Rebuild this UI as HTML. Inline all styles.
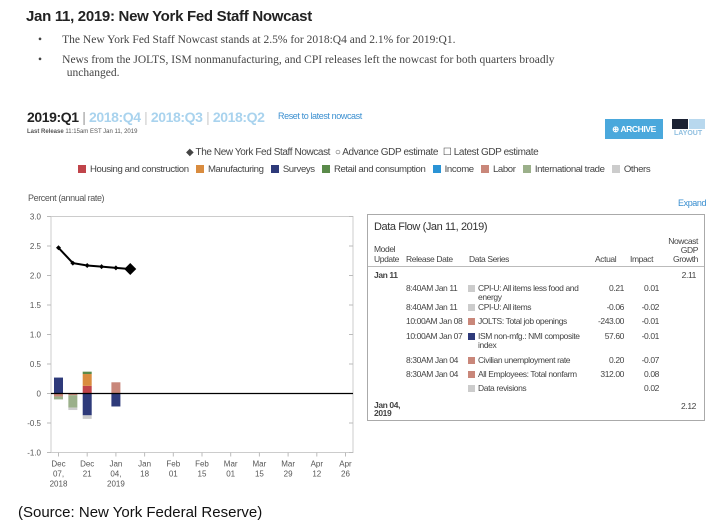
<!DOCTYPE html>
<html><head><meta charset="utf-8">
<style>
body{margin:0;width:721px;height:529px;background:#fff;position:relative;overflow:hidden;font-family:"Liberation Sans",sans-serif;color:#333}
.a{position:absolute;white-space:nowrap}
.c{letter-spacing:-0.4px}
.sw{display:inline-block;width:8px;height:8px;margin:0 4px 0 5px;vertical-align:-1px}
</style></head><body>
<div class="a" style="left:26px;top:8px;font-size:15px;font-weight:bold;color:#222;letter-spacing:-0.3px">Jan 11, 2019: New York Fed Staff Nowcast</div>
<div class="a" style="left:38px;top:34px;font-family:'Liberation Serif',serif;font-size:11.5px;color:#444">•&nbsp;&nbsp;&nbsp;&nbsp;&nbsp;&nbsp;&nbsp;The New York Fed Staff Nowcast stands at 2.5% for 2018:Q4 and 2.1% for 2019:Q1.</div>
<div class="a" style="left:38px;top:54px;font-family:'Liberation Serif',serif;font-size:11.5px;color:#444;line-height:13px">•&nbsp;&nbsp;&nbsp;&nbsp;&nbsp;&nbsp;&nbsp;News from the JOLTS, ISM nonmanufacturing, and CPI releases left the nowcast for both quarters broadly<br>&nbsp;&nbsp;&nbsp;&nbsp;&nbsp;&nbsp;&nbsp;&nbsp;&nbsp;&nbsp;unchanged.</div>

<div class="a c" style="left:27px;top:109px;font-size:14px;font-weight:bold;color:#222">
<span>2019:Q1</span> <span style="color:#999;font-weight:normal">|</span>
<span style="color:#a9d3ee">2018:Q4</span> <span style="color:#ccc;font-weight:normal">|</span>
<span style="color:#a9d3ee">2018:Q3</span> <span style="color:#ccc;font-weight:normal">|</span>
<span style="color:#a9d3ee">2018:Q2</span></div>
<div class="a c" style="left:278px;top:111px;font-size:9px;color:#3a8fd0">Reset to latest nowcast</div>
<div class="a" style="left:27px;top:129px;font-size:6px;color:#555"><b>Last Release</b> 11:15am EST Jan 11, 2019</div>
<div class="a c" style="left:605px;top:119px;width:58px;height:20px;background:#4aa8dc;color:#fff;font-size:8.5px;font-weight:bold;line-height:20px;text-align:center">⊕ ARCHIVE</div>
<div class="a" style="left:672px;top:119px;width:34px;height:22px">
<div style="position:absolute;left:0;top:0;width:16px;height:10px;background:#1b2233"></div>
<div style="position:absolute;left:17px;top:0;width:16px;height:10px;background:#b8d8ee"></div>
<div style="position:absolute;left:2px;top:11px;font-size:7px;color:#8fbfe0;font-weight:bold">LAYOUT</div></div>

<div class="a c" style="left:186px;top:147px;font-size:10px;color:#444">
<span>◆ The New York Fed Staff Nowcast</span>&nbsp;
<span>○ Advance GDP estimate</span>&nbsp;
<span>☐ Latest GDP estimate</span></div>
<div class="a c" style="left:73px;top:164px;font-size:9.6px;color:#444">
<span><i class="sw" style="background:#c0444a"></i>Housing and construction</span>
<span><i class="sw" style="background:#d98c3f"></i>Manufacturing</span>
<span><i class="sw" style="background:#2e3a7a"></i>Surveys</span>
<span><i class="sw" style="background:#5a8a4a"></i>Retail and consumption</span>
<span><i class="sw" style="background:#2a93d5"></i>Income</span>
<span><i class="sw" style="background:#c9877a"></i>Labor</span>
<span><i class="sw" style="background:#9bb08a"></i>International trade</span>
<span><i class="sw" style="background:#cccccc"></i>Others</span></div>

<div class="a c" style="left:28px;top:193px;font-size:9px;color:#555">Percent (annual rate)</div>
<div class="a c" style="left:678px;top:198px;font-size:9px;color:#3a8fd0">Expand</div>

<svg class="a" style="left:0;top:0" width="721" height="529">
<g id="g"></g></svg>

<div class="a" style="left:367px;top:214px;width:336px;height:205px;border:1px solid #aaa;font-size:8.5px;color:#444">
<div class="a c" style="left:6px;top:6px;font-size:11px;color:#333">Data Flow (Jan 11, 2019)</div>
<div class="a c" style="left:6px;top:29px;line-height:10px">Model<br>Update</div>
<div class="a c" style="left:38px;top:39px">Release Date</div>
<div class="a c" style="left:101px;top:39px">Data Series</div>
<div class="a c" style="left:227px;top:39px">Actual</div>
<div class="a c" style="left:262px;top:39px">Impact</div>
<div class="a c" style="right:6px;top:22px;line-height:9px;text-align:right">Nowcast<br>GDP<br>Growth</div>
<div style="position:absolute;left:0;right:0;top:51px;border-top:1px solid #bbb"></div>
<div class="a c" style="left:6px;top:55px;font-weight:bold">Jan 11</div>
<div class="a c" style="right:8px;top:55px">2.11</div>
<div id="rows"></div>
<div class="a c" style="left:6px;top:186px;font-weight:bold;line-height:8px">Jan 04,<br>2019</div>
<div class="a c" style="right:8px;top:186px">2.12</div>
</div>
<div class="a" style="left:18px;top:504px;font-size:15px;color:#111">(Source: New York Federal Reserve)</div>

<script>
const yTicks=[3.0,2.5,2.0,1.5,1.0,0.5,0,-0.5,-1.0];
const yTickLabels=["3.0","2.5","2.0","1.5","1.0","0.5","0","-0.5","-1.0"];
const xTickDays=[0,14,28,42,56,70,84,98,112,126,140];
const xTickLabels=[["Dec","07,","2018"],["Dec","21"],["Jan","04,","2019"],["Jan","18"],["Feb","01"],["Feb","15"],["Mar","01"],["Mar","15"],["Mar","29"],["Apr","12"],["Apr","26"]];
const nowcastDays=[0,7,14,21,28,35];
const nowcastValues=[2.47,2.21,2.17,2.15,2.13,2.11];
const barDays=[0,7,14,28];
const categories=["Housing","Manufacturing","Surveys","Retail","Income","Labor","Trade","Others"];
const catColors=["#c0444a","#d98c3f","#2e3a7a","#5a8a4a","#2a93d5","#c9877a","#9bb08a","#cccccc"];
const housing=[0,0,0.13,0];
const manufacturing=[0,0,0.20,0];
const surveys=[0.27,0,-0.37,-0.22];
const retail=[0,0,0.04,0];
const income=[0,0,0,0];
const labor=[-0.05,-0.03,0,0.19];
const trade=[-0.05,-0.21,0,0];
const others=[0,-0.04,-0.06,0];
const series=[housing,manufacturing,surveys,retail,income,labor,trade,others];

const NS="http://www.w3.org/2000/svg",g=document.getElementById('g');
const X0=51,X1=353,Y=v=>393.5-v*59,X=d=>58.5+d*2.05;
function el(t,a,p){const e=document.createElementNS(NS,t);for(const k in a)e.setAttribute(k,a[k]);(p||g).appendChild(e);return e;}
const fr=el('rect',{x:X0,y:Y(3),width:X1-X0,height:Y(-1)-Y(3),fill:'none',stroke:'#ccc'});


yTicks.forEach((v,i)=>{
 el('line',{x1:X0,x2:X0-4,y1:Y(v),y2:Y(v),stroke:'#bbb'});
 el('line',{x1:X1,x2:X1-4,y1:Y(v),y2:Y(v),stroke:'#bbb'});
 const t=el('text',{x:41,y:Y(v)+3,'text-anchor':'end','font-size':8,fill:'#555'});t.textContent=yTickLabels[i];
 
 
});
xTickDays.forEach((d,i)=>{
 el('line',{x1:X(d),x2:X(d),y1:Y(-1),y2:Y(-1)+4,stroke:'#bbb'});
 xTickLabels[i].forEach((s,j)=>{const t=el('text',{x:X(d),y:Y(-1)+14+j*10,'text-anchor':'middle','font-size':8,fill:'#555'});t.textContent=s;
 
 });
});
barDays.forEach((d,i)=>{
 let pos=0,neg=0;
 series.forEach((s,k)=>{const v=s[i];if(!v)return;let y0,y1;
  if(v>0){y0=pos;pos+=v;y1=pos;}else{y0=neg;neg+=v;y1=neg;}
  const r=el('rect',{x:X(d)-4.5,y:Y(Math.max(y0,y1)),width:9,height:Math.abs(Y(y1)-Y(y0)),fill:catColors[k]});
  
  
 });
});
el('line',{x1:X0,x2:X1,y1:Y(0),y2:Y(0),stroke:'#000','stroke-width':1.2});
const ln=el('polyline',{points:nowcastDays.map((d,i)=>X(d)+','+Y(nowcastValues[i])).join(' '),fill:'none',stroke:'#000','stroke-width':2});


nowcastDays.forEach((d,i)=>{const s=i==nowcastDays.length-1?6:2.5;const x=X(d),y=Y(nowcastValues[i]);
 const p=el('polygon',{points:`${x},${y-s} ${x+s},${y} ${x},${y+s} ${x-s},${y}`,fill:'#000'});
 
 
});

const rows=[["8:40AM Jan 11","#ccc","CPI-U: All items less food and","energy","0.21","0.01"],["8:40AM Jan 11","#ccc","CPI-U: All items","","-0.06","-0.02"],["10:00AM Jan 08","#c9877a","JOLTS: Total job openings","","-243.00","-0.01"],["10:00AM Jan 07","#2e3a7a","ISM non-mfg.: NMI composite","index","57.60","-0.01"],["8:30AM Jan 04","#c9877a","Civilian unemployment rate","","0.20","-0.07"],["8:30AM Jan 04","#c9877a","All Employees: Total nonfarm","","312.00","0.08"],["","#ccc","Data revisions","","","0.02"]];
const tops=[69,88,102,117,141,155,169];
const R=document.getElementById('rows');
rows.forEach((r,i)=>{const d=document.createElement('div');d.style.cssText=`position:absolute;left:0;right:0;top:${tops[i]}px;line-height:9px`;
 
 
 d.innerHTML=`<span class="a c" style="left:38px">${r[0]}</span><span class="a" style="left:100px;top:1px;width:7px;height:7px;background:${r[1]}"></span><span class="a c" style="left:110px">${r[2]}<br>${r[3]}</span><span class="a c" style="right:80px">${r[4]}</span><span class="a c" style="right:45px">${r[5]}</span>`;
 R.appendChild(d);});
</script>
</body></html>
